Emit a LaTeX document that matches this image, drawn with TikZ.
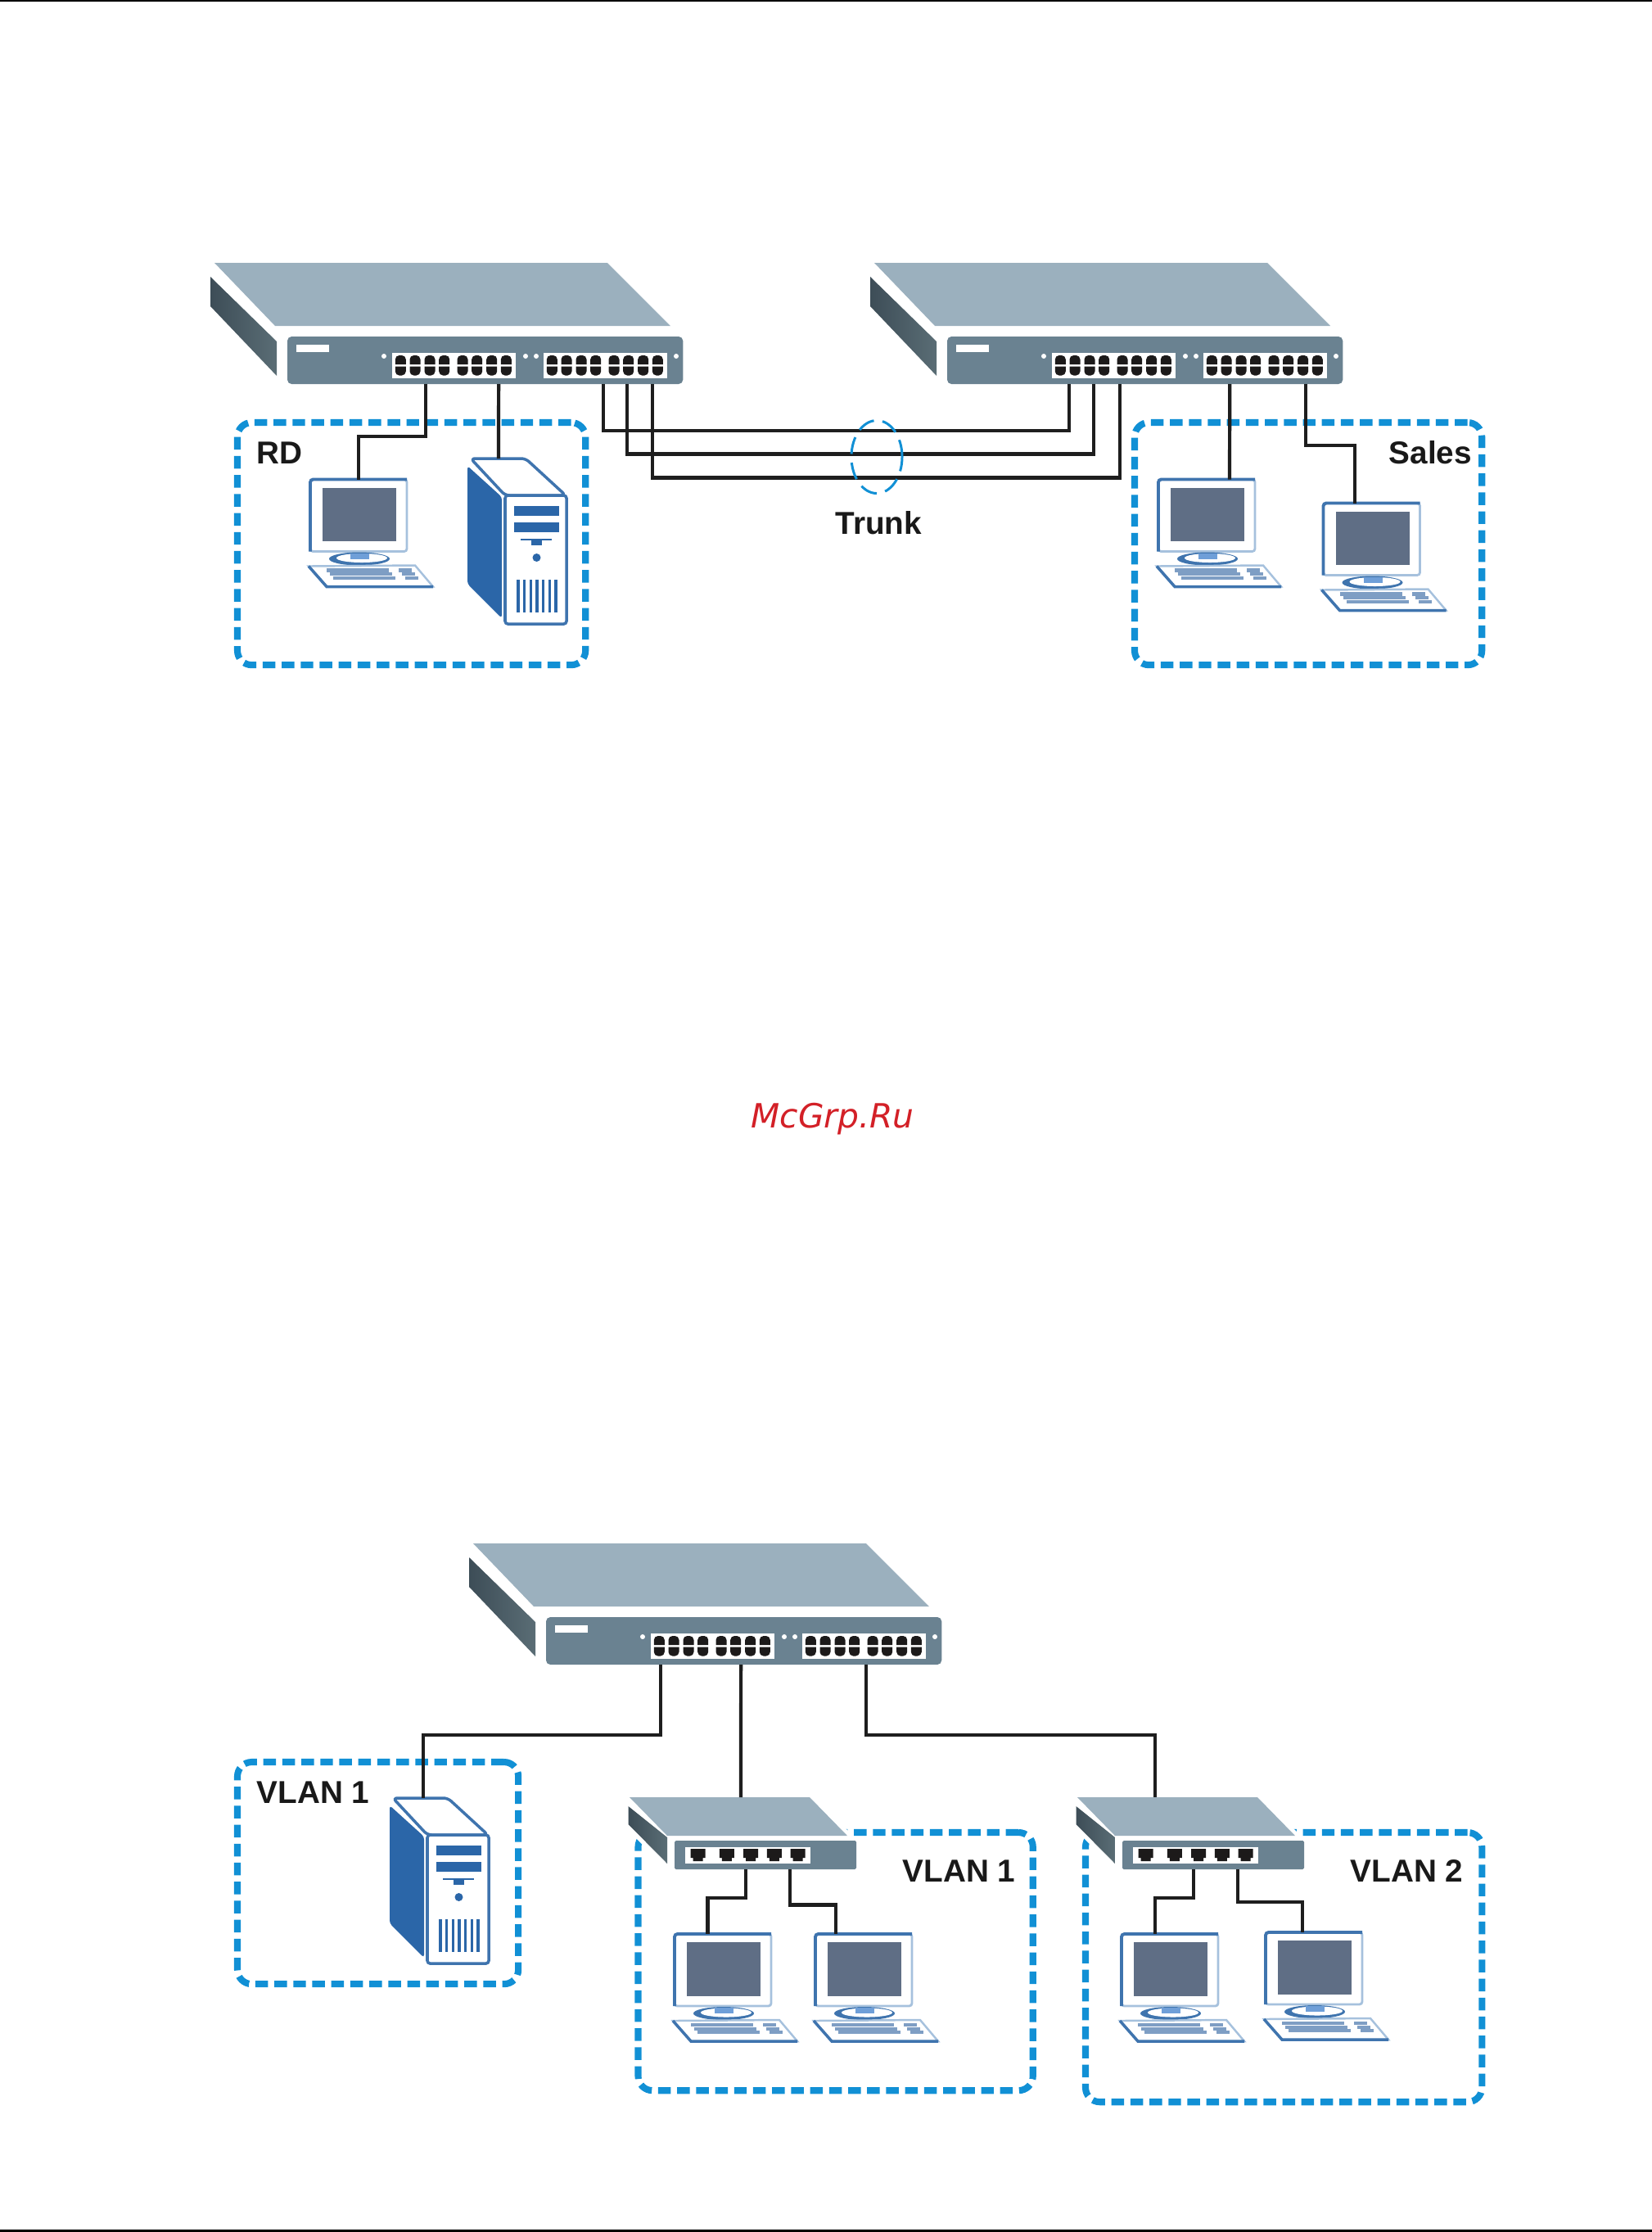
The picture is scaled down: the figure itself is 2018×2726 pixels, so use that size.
\documentclass[tikz,border=0pt]{standalone}
\usepackage{fontspec}
\setmainfont{Liberation Sans}
\newfontfamily\wmfont{DejaVu Sans}
\usetikzlibrary{positioning,shapes.geometric}
\definecolor{swplate}{HTML}{9BB0BE}
\definecolor{swface}{HTML}{6A8291}
\definecolor{swdark}{HTML}{3D4D57}
\definecolor{swmid}{HTML}{5A6D75}
\definecolor{swport}{HTML}{1C1A1A}
\definecolor{pcblue}{HTML}{2B66A8}
\definecolor{pcedge}{HTML}{3F74AE}
\definecolor{pclight}{HTML}{A6C1DD}
\definecolor{pcscreen}{HTML}{5F6E85}
\definecolor{pckey}{HTML}{7E9EC4}
\definecolor{pcstand}{HTML}{6F9FD8}
\definecolor{vlanblue}{HTML}{1190D5}
\definecolor{cable}{HTML}{1E1E1E}
\definecolor{wmred}{HTML}{D32027}
\tikzstyle{swfront}=[rectangle, rounded corners=1.5pt, fill=swface, anchor=north west,
                    inner sep=0pt, outer sep=0pt]
\tikzstyle{unitbox}=[rectangle, rounded corners=1pt, draw=pclight, fill=white, line width=0.8pt,
                    anchor=north west, inner sep=0pt, outer sep=0pt]
\tikzstyle{vlanbox}=[rectangle, rounded corners=5pt, draw=vlanblue, line width=2.3pt,
                    dash pattern=on 4.4pt off 2.2pt, anchor=north west, inner sep=0pt, outer sep=0pt]
\tikzstyle{trunkring}=[ellipse, draw=vlanblue, line width=0.85pt, dash pattern=on 6pt off 3pt,
                    minimum width=0.62cm, minimum height=0.89cm, inner sep=0pt, outer sep=0pt]
\tikzstyle{pline}=[-, line width=1.2pt, draw=cable]
\tikzstyle{lbl}=[anchor=base west, inner sep=0pt, font=\fontsize{11pt}{12pt}\selectfont\bfseries, text=black!90]

\newcommand{\bigsw}[3]{
\begin{scope}[shift={(#2,#3)}]
\fill[swplate] (-89,-90) -- (391,-90) -- (468,-13) -- (-15,-13) -- cycle;
\shade[left color=swdark, right color=swmid] (-94,-73) -- (-13,6) -- (-13,48) -- (-94,-37) -- cycle;
\node (#1) [swfront, minimum width=4.83cm, minimum height=0.58cm] at (0,0) {};
\fill[white] (11,10) rectangle (51,19);
\foreach \dx in {118,291,304,475} \fill[white] (\dx,24) circle[radius=3];
\foreach \bx in {128,313} {
  \fill[white] (\bx,20) rectangle (\bx+151,51);
  \foreach \px in {10.3,28,46,63.7,86,103.7,121.7,139.3} {
    \fill[swport] (\bx+\px-6.5,34) {[rounded corners=1.4pt] -- (\bx+\px-6.5,23) -- (\bx+\px+6.5,23)} -- (\bx+\px+6.5,34) -- cycle;
    \fill[swport] (\bx+\px-6.5,36.5) {[rounded corners=1.4pt] -- (\bx+\px-6.5,47.5) -- (\bx+\px+6.5,47.5)} -- (\bx+\px+6.5,36.5) -- cycle;
  }
}
\end{scope}}

\newcommand{\smallsw}[3]{
\begin{scope}[shift={(#2,#3)}]
\fill[white] (-60,-57) -- (167,-57) -- (222,-2) -- (222,35) -- (-9,35) -- (-60,-16) -- cycle;
\fill[swplate] (-55,-53) -- (165,-53) -- (211,-6) -- (-9,-6) -- cycle;
\shade[left color=swdark, right color=swmid] (-56.5,-42) -- (-9,-4) -- (-9,28) -- (-56.5,-20) -- cycle;
\node (#1) [swfront, rounded corners=0.5pt, minimum width=2.22cm, minimum height=0.35cm] at (0,0) {};
\coordinate (#1top) at (55,-53);
\fill[white] (13,8) rectangle (166,28);
\foreach \px in {28.7,63.8,93,121.8,150.7}
  \fill[swport] (\px-9,10) -- (\px+9,10) -- (\px+9,21) -- (\px+6,21) -- (\px+6,25) -- (\px-6,25) -- (\px-6,21) -- (\px-9,21) -- cycle;
\end{scope}}

\newcommand{\pcunit}[3]{
\begin{scope}[shift={(#2,#3)}]
\node (#1) [unitbox, minimum width=1.18cm, minimum height=0.88cm] at (0,0) {};
\draw[pcedge, line width=1.1pt, rounded corners=1pt] (0,88) -- (0,0) -- (118,0);
\fill[pcscreen] (15,10) rectangle (105,75.5);
\fill[pcedge] (60,97) ellipse [x radius=37, y radius=8];
\fill[white] (63,96) ellipse [x radius=31, y radius=5.5];
\fill[pcstand] (49,90) rectangle (72,97);
\draw[pclight, line width=0.7pt, fill=white] (-2,106) -- (128,105) -- (150,131) -- (20,131) -- cycle;
\draw[pcedge, line width=1pt] (-2,106) -- (20,131) -- (150,131);
\foreach \ky/\kx in {111/20,115.7/24,120.4/28} {
  \draw[pckey, line width=1.15pt] (\kx,\ky) -- ++(76,0);
  \draw[pckey, line width=1.15pt] (\kx+88,\ky) -- ++(16,0);
}
\end{scope}}

\newcommand{\towerunit}[3]{
\begin{scope}[shift={(#2,#3)}]
\fill[pcblue, rounded corners=1pt] (-46,-36) -- (-4,2) -- (-4,150) -- (-46,108) -- cycle;
\draw[pcedge, line width=1pt, fill=white, rounded corners=1.5pt] (-42,-45) -- (25,-45) -- (74,0) -- (0,0) -- cycle;
\coordinate (#1top) at (0,-45);
\node (#1) [unitbox, draw=pcedge, line width=1pt, minimum width=0.75cm, minimum height=1.57cm] at (0,0) {};
\fill[pcblue] (11,13) rectangle (66,25);
\fill[pcblue] (11,33) rectangle (66,45);
\draw[pcblue, line width=0.6pt] (19,54) -- (57,54);
\fill[pcblue] (32,54) rectangle (45,61);
\fill[pcblue] (38.5,76) circle[radius=5];
\foreach \vx in {16,23.7,31.3,39,46.7,54.3,62} \draw[pcblue, line width=1pt] (\vx,103) -- (\vx,143);
\end{scope}}

\begin{document}
\begin{tikzpicture}[x=0.01cm,y=-0.01cm]
\useasboundingbox (0,0) rectangle (2018,2726);
\fill[black] (0,0) rectangle (2018,2.3);
\fill[black] (0,2723) rectangle (2018,2726);

\node (RDBOX) [vlanbox, minimum width=4.25cm, minimum height=2.96cm] at (290,516) {};
\node (SALESBOX) [vlanbox, minimum width=4.24cm, minimum height=2.96cm] at (1386,516) {};
\node (VLANA) [vlanbox, minimum width=3.43cm, minimum height=2.71cm] at (290,2152) {};
\node (VLANB) [vlanbox, minimum width=4.82cm, minimum height=3.15cm] at (779.5,2238) {};
\node (VLANC) [vlanbox, minimum width=4.84cm, minimum height=3.29cm] at (1326,2238) {};

\bigsw{SWA}{351}{411}
\bigsw{SWB}{1157}{411}
\bigsw{SWC}{667}{1975}
\smallsw{SSWA}{824}{2248}
\smallsw{SSWB}{1371}{2248}

\pcunit{PCA}{379}{585.5}
\pcunit{PCB}{1415}{585.5}
\pcunit{PCC}{1616.5}{614.5}
\pcunit{PCD}{824}{2362}
\pcunit{PCE}{996}{2362}
\pcunit{PCF}{1370}{2362}
\pcunit{PCG}{1546}{2360}
\towerunit{TWRA}{617}{605}
\towerunit{TWRB}{522}{2241}

\draw[pline] ([xshift=-0.725cm]SWA.south) -- ++(0,64) -| (PCA.north);
\draw[pline] ([xshift=0.165cm]SWA.south) -- ([xshift=-0.08cm]TWRAtop);
\draw[pline] ([xshift=1.442cm]SWA.south) -- ++(0,57) -| ([xshift=-0.925cm]SWB.south);
\draw[pline] ([xshift=1.73cm]SWA.south) -- ++(0,85.5) -| ([xshift=-0.625cm]SWB.south);
\draw[pline] ([xshift=2.045cm]SWA.south) -- ++(0,114.5) -| ([xshift=-0.31cm]SWB.south);
\draw[pline] ([xshift=1.035cm]SWB.south) -- ([xshift=0.28cm]PCB.north);
\draw[pline] ([xshift=1.965cm]SWB.south) -- ++(0,75) -| ([xshift=-0.207cm]PCC.north);
\draw[pline] ([xshift=-1.019cm]SWC.south) -- ++(0,86) -| ([xshift=-0.053cm]TWRBtop);
\draw[pline] ([xshift=-0.035cm]SWC.south) -- ([xshift=0.26cm]SSWAtop);
\draw[pline] ([xshift=1.495cm]SWC.south) -- ++(0,86) -| ([xshift=-0.15cm]SSWBtop);
\draw[pline] ([xshift=-0.24cm]SSWA.south) -- ++(0,35) -| ([xshift=-0.185cm]PCD.north);
\draw[pline] ([xshift=0.30cm]SSWA.south) -- ++(0,43.5) -| ([xshift=-0.34cm]PCE.north);
\draw[pline] ([xshift=-0.24cm]SSWB.south) -- ++(0,35) -| ([xshift=-0.18cm]PCF.north);
\draw[pline] ([xshift=0.30cm]SSWB.south) -- ++(0,39.6) -| ([xshift=-0.14cm]PCG.north);

\node (TRUNK) [trunkring] at (1071,558) {};

\node (RDL) [lbl] at (313,566) {RD};
\node (SALESL) [lbl] at (1696,566) {Sales};
\node (TRUNKL) [lbl] at (1020,652) {Trunk};
\node (VLANAL) [lbl] at (313,2202) {VLAN 1};
\node (VLANBL) [lbl] at (1102,2298) {VLAN 1};
\node (VLANCL) [lbl] at (1649,2298) {VLAN 2};
\node (MARK) [anchor=base west, inner sep=0pt, text=wmred, font=\wmfont\itshape\fontsize{11.6pt}{13pt}\selectfont] at (917,1377) {McGrp.Ru};

\end{tikzpicture}
\end{document}
